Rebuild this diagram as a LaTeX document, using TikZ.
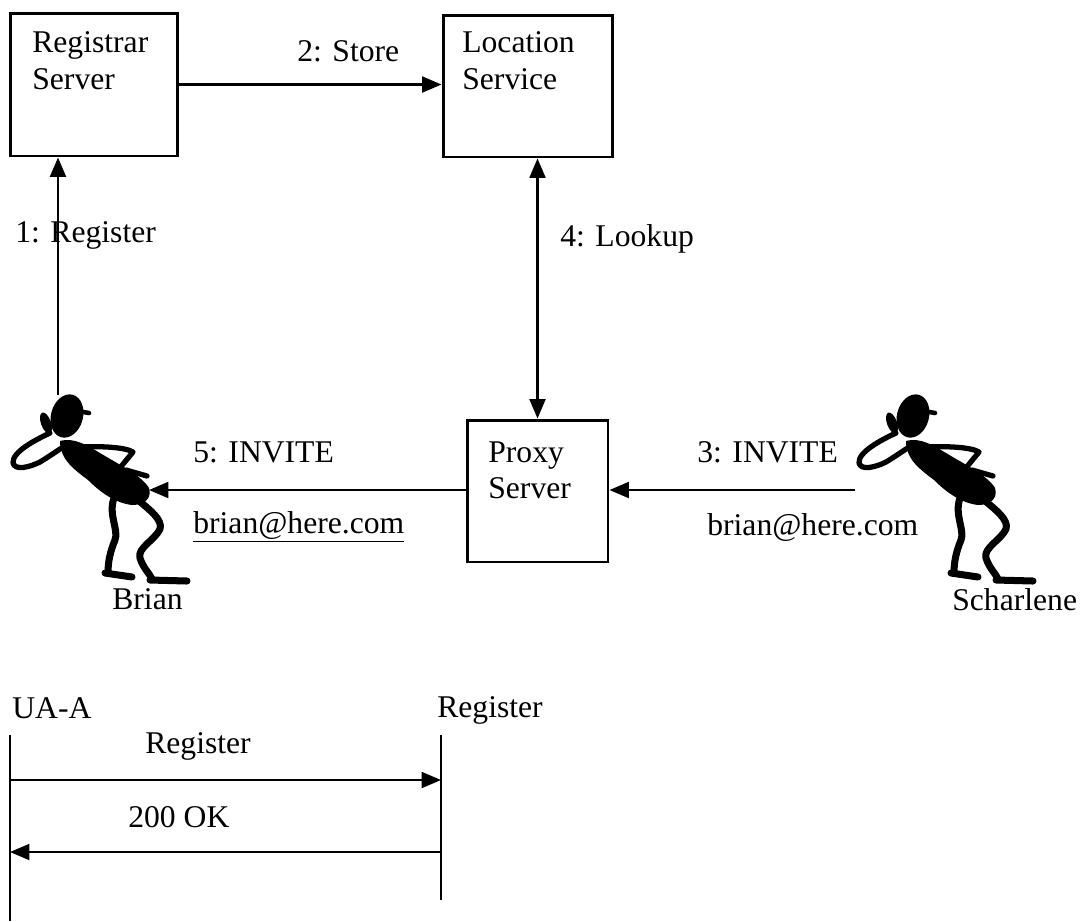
\documentclass[tikz,border=0pt]{standalone}
\usepackage{fontspec}
\setmainfont{Liberation Serif}
\usetikzlibrary{arrows.meta}

\begin{document}
\begin{tikzpicture}[x=0.02cm, y=-0.02cm, >={Triangle[length=11pt,width=9pt]},
  box/.style={draw, line width=1.7pt, inner sep=0pt},
  txt/.style={font=\fontsize{18}{21}\selectfont, inner sep=0pt},
  msg/.style={line width=1.4pt},
  limb/.style={line width=4pt, line cap=round, line join=round},
  arm/.style={line width=3pt, line cap=round, line join=round},
  caller/.pic={
    % head, cap and hand at the ear
    \fill[rotate around={-15:(67,416)}] (67,416) ellipse [x radius=16, y radius=22];
    \draw[line width=2.6pt, line cap=round] (72,410) -- (89,413);
    \fill[rotate around={20:(46,423)}] (46,423) ellipse [x radius=5, y radius=11];
    % arm loop
    \draw[arm] (50,433) .. controls (35,440) and (12,452) .. (13,463)
      .. controls (15,471) and (30,467) .. (40,462)
      .. controls (50,456) and (58,450) .. (65,446);
    % body
    \fill (60,441) .. controls (75,437) and (88,446) .. (100,453)
      .. controls (120,465) and (142,476) .. (149,488)
      .. controls (152,498) and (145,505) .. (132,505)
      .. controls (115,503) and (100,492) .. (88,480)
      .. controls (75,470) and (60,460) .. (60,441) -- cycle;
    % other arm on the hip
    \draw[arm] (78,447) .. controls (100,446) and (125,447) .. (133,452) -- (119,469);
    \draw[arm] (126,470) -- (147,476);
    % legs and feet
    \draw[limb] (114,498) .. controls (108,515) and (119,530) .. (115,540)
      .. controls (110,552) and (108,562) .. (108,573);
    \draw[limb] (105,573) -- (132,577);
    \draw[limb] (138,500) .. controls (150,510) and (163,520) .. (160,529)
      .. controls (155,540) and (137,548) .. (140,558)
      .. controls (143,568) and (150,574) .. (152,579);
    \draw[limb] (150,580) -- (187,581);
    \coordinate (-top) at (58,395);
    \coordinate (-hip) at (149,490);
    \coordinate (-front) at (9,490);
  }]
  \useasboundingbox (0,0) rectangle (1081,921);

  % servers
  \node[box, minimum width=3.36cm, minimum height=2.86cm] (reg) at (94,84.5) {};
  \node[box, minimum width=3.4cm, minimum height=2.84cm] (loc) at (528,86) {};
  \node[box, minimum width=2.82cm, minimum height=2.84cm] (proxy) at (537.5,491) {};
  \node[txt, anchor=north west, align=left] (reg-name) at (32,31) {Registrar\\Server};
  \node[txt, anchor=north west, align=left] (loc-name) at (462,31) {Location\\Service};
  \node[txt, anchor=north west, align=left] (proxy-name) at (488,441) {Proxy\\Server};

  % users
  \pic (brian-fig) at (0,0) {caller};
  \pic (scharlene-fig) at (846,0) {caller};
  \node[txt, anchor=base west] (brian) at (112,609) {Brian};
  \node[txt, anchor=base west] (scharlene) at (952,610) {Scharlene};

  % message flow
  \draw[msg,->] (brian-fig-top) -- (brian-fig-top |- reg.south);
  \draw[msg,->] (reg.east) -- (reg.east -| loc.west);
  \draw[msg,<->] (loc.south -| proxy.north) -- (proxy.north);
  \draw[msg,->] (scharlene-fig-front) -- (scharlene-fig-front -| proxy.east);
  \draw[msg,->] (proxy.west |- brian-fig-hip) -- (brian-fig-hip);

  \node[txt, anchor=base west] (store) at (297,61) {2: Store};
  \node[txt, anchor=base west] (register) at (15,242) {1: Register};
  \node[txt, anchor=base west] (lookup) at (560,246) {4: Lookup};
  \node[txt, anchor=base west] (invite5) at (193,462) {5: INVITE};
  \node[txt, anchor=base west] (uri5) at (193,533) {\underline{brian@here.com}};
  \node[txt, anchor=base west] (invite3) at (697,462) {3: INVITE};
  \node[txt, anchor=base west] (uri3) at (707,535) {brian@here.com};

  % registration sequence
  \node[txt, anchor=base west] (ua) at (12,718) {UA-A};
  \node[txt, anchor=base west] (rg) at (437,717) {Register};
  \coordinate (ua-top) at (10,735);
  \coordinate (ua-end) at (10,921);
  \coordinate (rg-top) at (441,735);
  \coordinate (rg-end) at (441,900);
  \draw[msg] (ua-top) -- (ua-end);
  \draw[msg] (rg-top) -- (rg-end);
  \coordinate (ua-m1) at (10,780);
  \coordinate (rg-m1) at (441,780);
  \coordinate (ua-m2) at (10,852);
  \coordinate (rg-m2) at (441,852);
  \draw[msg,->] (ua-m1) -- (rg-m1);
  \draw[msg,->] (rg-m2) -- (ua-m2);
  \node[txt, anchor=base west] (reg-msg) at (145,753) {Register};
  \node[txt, anchor=base west] (ok-msg) at (128,827) {200 OK};
\end{tikzpicture}
\end{document}
